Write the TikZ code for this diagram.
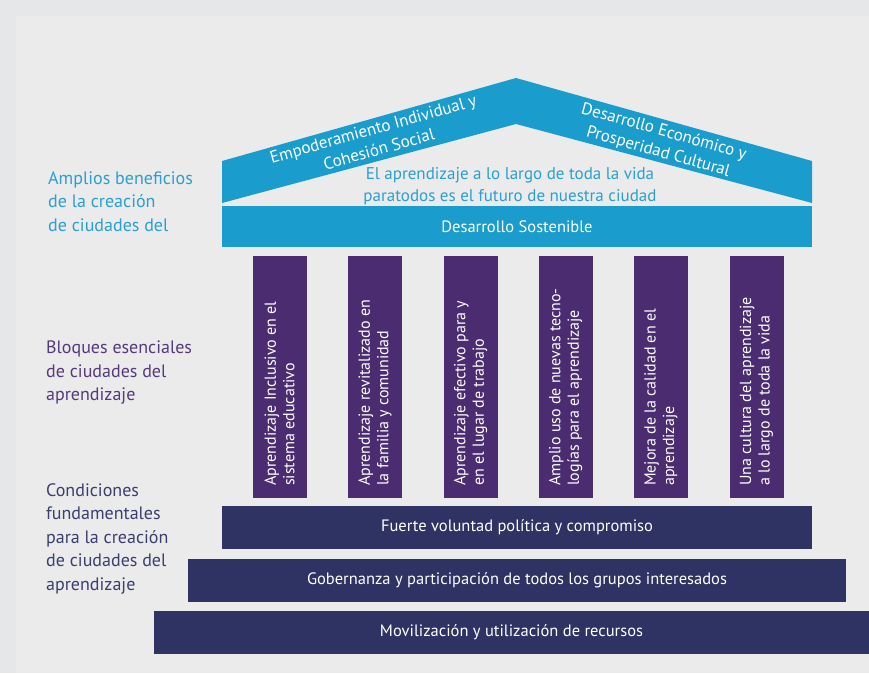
\documentclass[tikz,border=0pt]{standalone}
\usepackage{fontspec}
\setmainfont{PT Sans}
\definecolor{bgout}{HTML}{E6E7E9}
\definecolor{bgpanel}{HTML}{EBEBEC}
\definecolor{roofblue}{HTML}{1A9DCC}
\definecolor{pillarpurple}{HTML}{4B2C70}
\definecolor{basenavy}{HTML}{2F3364}
\definecolor{labelblue}{HTML}{2A9FD0}
\definecolor{labelpurple}{HTML}{553A7A}
\definecolor{labelnavy}{HTML}{3A3F6E}
\begin{document}
\begin{tikzpicture}[x=1pt,y=-1pt]
% Define styles
\tikzset{
    band/.style={rectangle, fill=roofblue, minimum width=590pt, minimum height=41pt, inner sep=0pt, text=white, font=\fontsize{16.5}{19}\selectfont},
    pillar/.style={rectangle, fill=pillarpurple, minimum width=54pt, minimum height=242pt, inner sep=0pt},
    pillartext/.style={rotate=90, anchor=west, align=left, inner sep=0pt, text=white, font=\fontsize{16}{18.5}\selectfont},
    base/.style={rectangle, fill=basenavy, minimum height=43pt, inner sep=0pt, text=white, font=\fontsize{16.5}{19}\selectfont},
    rooftext/.style={align=center, inner sep=0pt, text=white, font=\fontsize{17}{21}\selectfont},
    sidelabel/.style={anchor=north west, align=left, inner sep=0pt, font=\fontsize{18}{23.5}\selectfont}
}

% Background
\fill[bgout] (0,0) rectangle (869,673);
\fill[bgpanel] (16,16) rectangle (869,673);
\useasboundingbox (0,0) rectangle (869,673);

% Roof
\fill[roofblue] (222,161) -- (516,78) -- (812,161) -- (812,203) -- (516,124) -- (222,203) -- cycle;
\node[rooftext, rotate=15.7] (roofleft) at (376,139) {Empoderamiento Individual y\\Cohesión Social};
\node[rooftext, rotate=-15.7] (roofright) at (661,142) {Desarrollo Económico y\\Prosperidad Cultural};
\node[align=center, inner sep=0pt, text=labelblue, font=\fontsize{17}{21.5}\selectfont] (motto) at (510,186) {El aprendizaje a lo largo de toda la vida\\paratodos es el futuro de nuestra ciudad};

% Band
\node[band] (sostenible) at (517,226.5) {Desarrollo Sostenible};

% Pillars
\foreach \i/\x/\txt in {1/279.5/{Aprendizaje Inclusivo en el\\sistema educativo},
                        2/375/{Aprendizaje revitalizado en\\la familia y comunidad},
                        3/470.5/{Aprendizaje efectivo para y\\en el lugar de trabajo},
                        4/565.5/{Amplio uso de nuevas tecno-\\logías para el aprendizaje},
                        5/661/{Mejora de la calidad en el\\aprendizaje},
                        6/756.5/{Una cultura del aprendizaje\\a lo largo de toda la vida}} {
    \node[pillar] (pillar\i) at (\x,377) {};
    \node[pillartext] (pillartext\i) at (\x,486) {\txt};
}

% Foundations
\node[base, minimum width=590pt] (voluntad) at (517,527.5) {Fuerte voluntad política y compromiso};
\node[base, minimum width=658pt] (gobernanza) at (517,580) {Gobernanza y participación de todos los grupos interesados};
\node[base, minimum width=715pt] (recursos) at (511.5,632.5) {Movilización y utilización de recursos};

% Side labels
\node[sidelabel, text=labelblue] (beneficios) at (48,171) {Amplios beneficios\\de la creación\\de ciudades del};
\node[sidelabel, text=labelpurple] (bloques) at (46,341) {Bloques esenciales\\de ciudades del\\aprendizaje};
\node[sidelabel, text=labelnavy] (condiciones) at (46,483) {Condiciones\\fundamentales\\para la creación\\de ciudades del\\aprendizaje};

\end{tikzpicture}
\end{document}
